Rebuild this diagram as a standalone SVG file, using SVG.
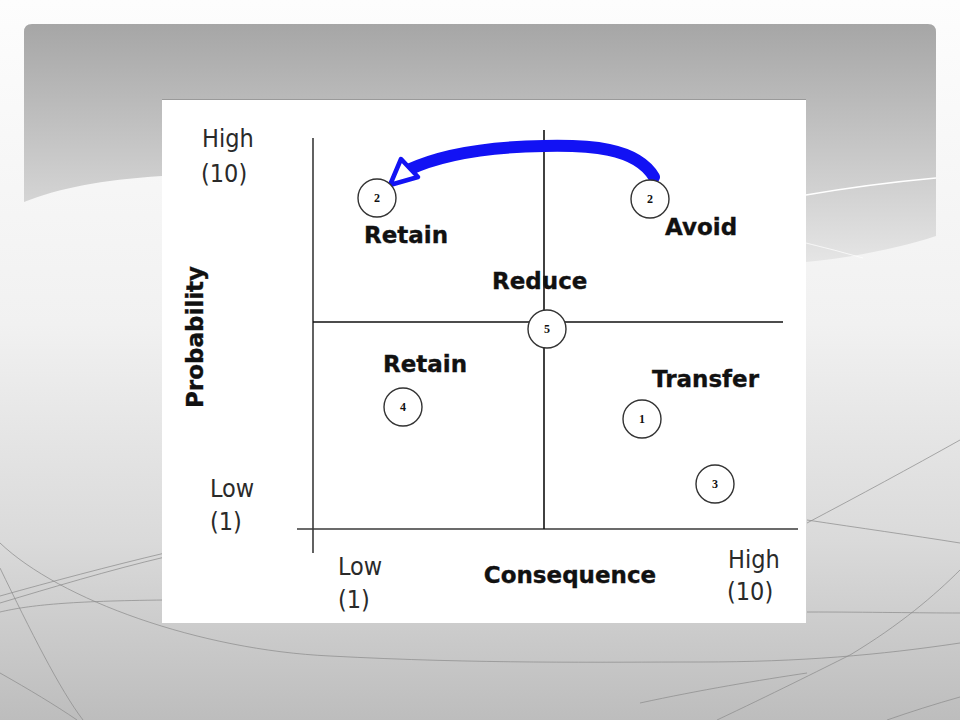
<svg xmlns="http://www.w3.org/2000/svg" width="960" height="720" viewBox="0 0 960 720">
  <style>
    .axis { stroke: #3a3a3a; stroke-width: 1.6; fill: none; }
    .node circle { fill: #ffffff; stroke: #333333; stroke-width: 1.4; }
    .num { font-family: "Liberation Serif", "DejaVu Serif", serif; font-weight: bold; font-size: 12px; fill: #111; text-anchor: middle; }
    .lbl { font-family: "DejaVu Sans", Verdana, sans-serif; font-weight: bold; font-size: 23px; fill: #111; stroke: #111; stroke-width: 0.35; }
    .scale { font-family: "DejaVu Sans Condensed", "DejaVu Sans", sans-serif; font-stretch: condensed; font-size: 25px; fill: #2a2a2a; }
    .swoosh { fill: none; stroke: #8c8c8c; stroke-width: 0.9; opacity: 0.8; }
  </style>
  <defs>
    <linearGradient id="bg" x1="0" y1="0" x2="0" y2="1">
      <stop offset="0" stop-color="#fdfdfd"/>
      <stop offset="0.45" stop-color="#f1f1f1"/>
      <stop offset="0.75" stop-color="#dadada"/>
      <stop offset="1" stop-color="#bdbdbd"/>
    </linearGradient>
    <linearGradient id="band" x1="0" y1="24" x2="0" y2="265" gradientUnits="userSpaceOnUse">
      <stop offset="0" stop-color="#a6a6a6"/>
      <stop offset="0.7" stop-color="#d2d2d2"/>
      <stop offset="1" stop-color="#e6e6e6"/>
    </linearGradient>
  </defs>

  <!-- slide background -->
  <g id="background">
    <rect x="0" y="0" width="960" height="720" fill="url(#bg)"/>
    <path d="M24,32 Q24,24 32,24 L928,24 Q936,24 936,32 L936,236 C 900,248 850,258 806,262 L162,176 C 100,180 60,188 24,202 Z" fill="url(#band)"/>
    <path d="M806,195 Q870,184 936,178" fill="none" stroke="#ffffff" stroke-width="1.5"/>
    <path d="M806,243 Q835,250 863,258" fill="none" stroke="#ffffff" stroke-width="1" opacity="0.7"/>
    <path class="swoosh" d="M0,543 C 60,600 200,650 330,656 C 480,664 600,662 700,662 C 800,662 880,655 960,643"/>
    <path class="swoosh" d="M0,568 C 30,630 60,690 83,720"/>
    <path class="swoosh" d="M0,673 C 30,690 55,705 77,720"/>
    <path class="swoosh" d="M0,603 C 50,588 110,570 165,557"/>
    <path class="swoosh" d="M0,596 C 50,582 110,566 165,553" opacity="0.5"/>
    <path class="swoosh" d="M0,612 C 30,605 70,601 165,600"/>
    <path class="swoosh" d="M807,523 C 860,495 910,468 960,440"/>
    <path class="swoosh" d="M807,520 C 860,528 910,535 960,543" opacity="0.5"/>
    <path class="swoosh" d="M717,720 C 770,695 820,670 850,655 C 900,625 935,595 960,570"/>
    <path class="swoosh" d="M807,612 C 870,612 920,613 960,613" opacity="0.5"/>
    <path class="swoosh" d="M640,703 C 700,690 760,680 807,673" opacity="0.6"/>
    <path class="swoosh" d="M887,720 C 910,712 935,704 960,697"/>
  </g>

  <!-- picture panel -->
  <rect x="162" y="99" width="644" height="524" fill="#ffffff"/>
  <line x1="162" y1="99.5" x2="806" y2="99.5" stroke="#9a9a9a" stroke-width="1"/>

  <!-- axes and quadrant lines -->
  <g id="axes">
    <line class="axis" x1="313" y1="138" x2="313" y2="553"/>
    <line class="axis" x1="297" y1="529" x2="798" y2="529"/>
    <line class="axis" x1="313" y1="322" x2="783" y2="322" style="stroke:#111"/>
    <line class="axis" x1="544" y1="130" x2="544" y2="529" style="stroke:#111"/>
  </g>

  <!-- axis texts -->
  <g id="axis-labels">
    <text class="scale" x="202" y="147">High</text>
    <text class="scale" x="201" y="182">(10)</text>
    <text class="scale" x="210" y="497">Low</text>
    <text class="scale" x="210" y="530">(1)</text>
    <text class="scale" x="338" y="575">Low</text>
    <text class="scale" x="338" y="608">(1)</text>
    <text class="scale" x="728" y="568">High</text>
    <text class="scale" x="727" y="600">(10)</text>
    <text class="lbl" x="570" y="583" text-anchor="middle">Consequence</text>
    <text class="lbl" transform="translate(203,337) rotate(-90)" text-anchor="middle" font-size="24">Probability</text>
  </g>

  <!-- quadrant labels -->
  <g id="quadrant-labels">
    <text class="lbl" x="364" y="243">Retain</text>
    <text class="lbl" x="665" y="235">Avoid</text>
    <text class="lbl" x="492" y="289">Reduce</text>
    <text class="lbl" x="383" y="372">Retain</text>
    <text class="lbl" x="652" y="387">Transfer</text>
  </g>

  <!-- connectors -->
  <g id="connectors">
    <path d="M654,177 C 636,147 588,145 544,146 C 482,147 440,155 408,170" fill="none" stroke="#1212f4" stroke-width="12" stroke-linecap="round"/>
    <polygon points="390,185 401,159 418,177" fill="#ffffff" stroke="#1212f4" stroke-width="4.5" stroke-linejoin="round"/>
  </g>

  <!-- risk nodes -->
  <g id="node-2a" class="node"><circle cx="377" cy="198" r="19"/><text class="num" x="377" y="202">2</text></g>
  <g id="node-2b" class="node"><circle cx="650" cy="199" r="19"/><text class="num" x="650" y="203">2</text></g>
  <g id="node-5" class="node"><circle cx="547" cy="329" r="19"/><text class="num" x="547" y="333">5</text></g>
  <g id="node-4" class="node"><circle cx="403" cy="407" r="19"/><text class="num" x="403" y="411">4</text></g>
  <g id="node-1" class="node"><circle cx="642" cy="419" r="19"/><text class="num" x="642" y="423">1</text></g>
  <g id="node-3" class="node"><circle cx="715" cy="484" r="19"/><text class="num" x="715" y="488">3</text></g>
</svg>
